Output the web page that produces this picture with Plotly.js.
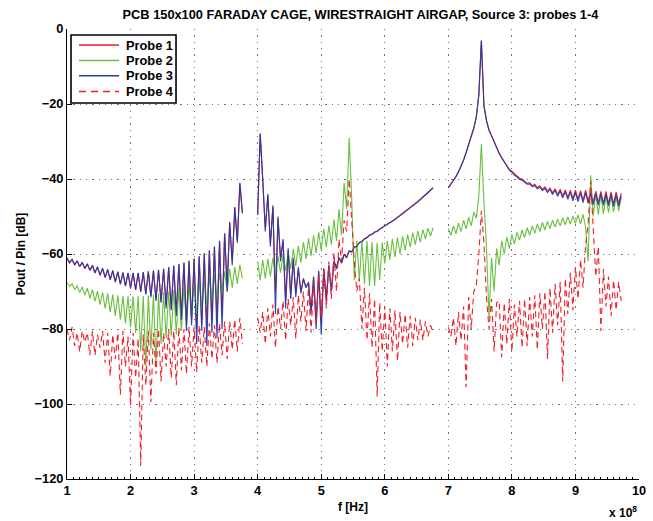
<!DOCTYPE html>
<html>
<head>
<meta charset="utf-8">
<script src="https://cdn.plot.ly/plotly-3.0.1.min.js"></script>
<style>html,body{margin:0;padding:0;background:#fff;}#chart{width:653px;height:521px;}</style>
</head>
<body>
<div id="chart"></div>
<script>
// frequency in units of 1e8 Hz, three measured bands
const freqA = [1.00,1.04,1.08,1.12,1.16,1.20,1.24,1.28,1.32,1.36,
1.40,1.44,1.48,1.52,1.56,1.60,1.64,1.68,1.72,1.76,
1.80,1.84,1.88,1.92,1.96,2.00,2.04,2.08,2.12,2.16,
2.20,2.24,2.28,2.32,2.36,2.40,2.44,2.48,2.52,2.56,
2.60,2.64,2.68,2.72,2.76,2.80,2.84,2.88,2.92,2.96,
3.00,3.04,3.08,3.12,3.16,3.20,3.24,3.28,3.32,3.36,
3.40,3.44,3.48,3.52,3.56,3.60,3.64,3.68,3.72,3.76];
const freqB = [4.00,4.04,4.08,4.12,4.16,4.20,4.24,4.28,4.32,4.36,
4.40,4.44,4.48,4.52,4.56,4.60,4.64,4.68,4.72,4.76,
4.80,4.84,4.88,4.92,4.96,5.00,5.04,5.08,5.12,5.16,
5.20,5.24,5.28,5.32,5.36,5.40,5.44,5.48,5.52,5.56,
5.60,5.64,5.68,5.72,5.76,5.80,5.84,5.88,5.92,5.96,
6.00,6.04,6.08,6.12,6.16,6.20,6.24,6.28,6.32,6.36,
6.40,6.44,6.48,6.52,6.56,6.60,6.64,6.68,6.72,6.76];
const freqC = [7.00,7.04,7.08,7.12,7.16,7.20,7.24,7.28,7.32,7.36,
7.40,7.44,7.48,7.52,7.56,7.60,7.64,7.68,7.72,7.76,
7.80,7.84,7.88,7.92,7.96,8.00,8.04,8.08,8.12,8.16,
8.20,8.24,8.28,8.32,8.36,8.40,8.44,8.48,8.52,8.56,
8.60,8.64,8.68,8.72,8.76,8.80,8.84,8.88,8.92,8.96,
9.00,9.04,9.08,9.12,9.16,9.20,9.24,9.28,9.32,9.36,
9.40,9.44,9.48,9.52,9.56,9.60,9.64,9.68,9.72];

// Probe 1 [dB]
const probe1A = [-61.2,-62.4,-61.5,-62.9,-61.9,-63.4,-62.3,-63.9,-62.7,-64.4,
-63.1,-65.1,-63.5,-65.7,-63.9,-66.3,-64.2,-66.9,-64.5,-67.5,
-64.8,-68.1,-65.0,-68.6,-65.1,-69.1,-65.1,-69.6,-65.1,-70.1,
-64.9,-70.6,-64.7,-71.2,-64.5,-72.0,-64.3,-72.6,-64.0,-73.5,
-63.6,-74.5,-63.2,-75.5,-62.8,-76.5,-62.4,-78.0,-61.9,-77.5,
-61.3,-80.0,-60.7,-78.5,-59.9,-79.0,-59.1,-77.5,-58.1,-78.0,
-56.6,-76.0,-54.6,-68.0,-51.6,-62.0,-47.6,-56.5,-41.2,-49.2];
const probe1B = [-49.4,-28.0,-40.5,-53.0,-44.5,-57.0,-47.5,-70.0,-50.5,-61.0,
-56.5,-72.0,-59.0,-71.0,-61.5,-70.5,-64.0,-70.0,-66.8,-68.8,
-67.6,-75.0,-66.2,-77.5,-64.7,-78.0,-64.0,-71.5,-63.1,-69.5,
-61.8,-63.5,-60.9,-62.2,-60.0,-60.8,-59.1,-59.4,-58.1,-57.9,
-56.9,-56.6,-55.9,-55.6,-54.9,-54.7,-54.1,-53.9,-53.3,-52.9,
-52.5,-52.0,-51.6,-51.1,-50.7,-50.2,-49.7,-49.2,-48.7,-48.2,
-47.7,-47.1,-46.6,-46.0,-45.4,-44.8,-44.2,-43.6,-42.9,-42.3];
const probe1C = [-42.3,-41.4,-40.4,-39.3,-38.0,-36.5,-34.9,-32.9,-30.7,-28.5,
-26.4,-23.4,-17.6,-3.2,-20.3,-24.3,-26.9,-28.4,-30.1,-31.7,
-33.1,-34.3,-35.5,-36.4,-37.4,-38.0,-38.8,-39.2,-39.8,-40.0,
-40.6,-41.2,-41.0,-41.8,-41.4,-42.3,-41.8,-42.8,-42.1,-43.2,
-42.4,-43.7,-42.6,-44.1,-42.7,-44.5,-42.9,-44.9,-43.0,-45.2,
-43.0,-45.4,-43.1,-45.7,-43.0,-45.9,-43.2,-46.2,-43.2,-46.3,
-43.3,-46.4,-43.3,-46.5,-43.4,-46.6,-43.4,-46.6,-43.8];

// Probe 2 [dB]
const probe2A = [-67.6,-68.6,-68.0,-69.5,-68.4,-70.3,-68.8,-71.0,-69.1,-71.8,
-69.5,-72.6,-69.9,-73.5,-70.2,-74.5,-70.5,-75.5,-70.8,-76.5,
-71.0,-77.5,-71.2,-78.5,-71.3,-79.5,-71.3,-81.0,-71.3,-86.0,
-71.2,-90.0,-71.0,-85.5,-70.8,-89.5,-70.6,-84.0,-70.3,-82.5,
-70.0,-82.0,-69.6,-81.5,-69.2,-80.5,-68.8,-79.0,-68.2,-77.0,
-67.8,-76.0,-67.3,-75.0,-66.8,-74.0,-66.2,-72.8,-65.7,-71.8,
-65.2,-71.0,-64.6,-70.0,-64.0,-69.0,-63.5,-68.0,-62.8,-66.5];
const probe2B = [-62.0,-67.0,-61.6,-66.5,-61.3,-66.0,-61.0,-65.5,-60.6,-65.0,
-60.0,-64.5,-59.4,-64.0,-58.6,-63.2,-57.8,-62.3,-56.8,-61.3,
-55.8,-60.5,-55.0,-59.8,-54.2,-59.0,-53.3,-58.2,-52.4,-57.5,
-50.8,-56.5,-48.0,-55.0,-41.0,-48.0,-29.0,-45.5,-67.0,-56.5,
-67.0,-56.5,-68.0,-56.5,-68.5,-56.8,-68.5,-57.0,-67.0,-57.0,
-62.5,-56.5,-61.5,-56.0,-60.8,-55.6,-60.0,-55.3,-59.0,-54.8,
-58.2,-54.3,-57.5,-53.9,-56.8,-53.5,-56.0,-53.1,-55.2,-53.0];
const probe2C = [-53.2,-55.0,-52.5,-54.6,-51.8,-54.0,-51.0,-53.3,-50.2,-52.5,
-48.8,-50.5,-44.5,-30.7,-46.0,-58.0,-77.0,-61.0,-70.0,-58.5,
-63.0,-56.5,-60.0,-55.5,-58.5,-54.8,-57.3,-54.2,-56.3,-53.6,
-55.6,-53.0,-55.0,-52.5,-54.5,-52.0,-54.0,-51.6,-53.6,-51.3,
-53.2,-51.0,-52.8,-50.7,-52.5,-50.4,-52.2,-50.1,-52.0,-49.9,
-51.8,-49.6,-52.0,-49.4,-53.0,-62.0,-39.0,-50.0,-44.0,-49.5,
-44.2,-49.3,-44.5,-49.0,-44.6,-48.8,-44.8,-48.6,-45.0];

// Probe 3 [dB]
const probe3A = [-61.0,-62.3,-61.4,-62.8,-61.8,-63.3,-62.2,-63.8,-62.6,-64.3,
-63.0,-65.0,-63.4,-65.6,-63.8,-66.2,-64.1,-66.8,-64.4,-67.4,
-64.7,-68.0,-64.9,-68.5,-65.0,-69.0,-65.0,-69.5,-65.0,-70.0,
-64.8,-70.8,-64.6,-71.5,-64.4,-72.5,-64.2,-73.0,-63.9,-74.5,
-63.5,-75.0,-63.1,-76.5,-62.7,-77.5,-62.3,-80.5,-61.8,-79.0,
-61.2,-84.0,-60.6,-80.5,-59.8,-84.5,-59.0,-81.0,-58.0,-82.5,
-56.5,-80.0,-54.5,-70.0,-51.5,-63.0,-47.5,-57.0,-41.0,-49.0];
const probe3B = [-49.6,-27.8,-40.0,-54.0,-44.0,-58.0,-47.0,-76.0,-50.0,-62.0,
-56.0,-74.5,-58.5,-72.0,-61.0,-71.5,-63.5,-70.5,-66.5,-69.0,
-67.5,-76.0,-66.0,-80.0,-64.5,-81.5,-63.8,-73.0,-63.0,-70.0,
-62.0,-64.0,-61.0,-62.5,-60.2,-61.0,-59.2,-59.5,-58.2,-58.0,
-57.0,-56.7,-56.0,-55.7,-55.0,-54.8,-54.2,-54.0,-53.4,-53.0,
-52.6,-52.1,-51.7,-51.2,-50.8,-50.3,-49.8,-49.3,-48.8,-48.3,
-47.8,-47.2,-46.7,-46.1,-45.5,-44.9,-44.3,-43.7,-43.0,-42.4];
const probe3C = [-42.4,-41.5,-40.5,-39.4,-38.1,-36.6,-35.0,-33.0,-30.8,-28.6,
-26.5,-23.5,-17.5,-3.0,-20.5,-24.5,-27.0,-28.5,-30.2,-31.8,
-33.2,-34.4,-35.6,-36.5,-37.6,-38.2,-39.0,-39.4,-40.1,-40.3,
-40.9,-41.4,-41.3,-42.0,-41.8,-42.6,-42.2,-43.1,-42.5,-43.6,
-42.8,-44.1,-43.0,-44.6,-43.2,-45.0,-43.4,-45.4,-43.5,-45.8,
-43.6,-46.0,-43.7,-46.3,-43.6,-46.5,-43.8,-46.8,-43.8,-47.0,
-43.9,-47.0,-44.0,-47.2,-44.0,-47.3,-44.1,-47.3,-44.5];

// Probe 4 [dB]
const probe4A = [-80.0,-83.0,-79.5,-84.5,-81.0,-86.0,-80.5,-83.5,-81.0,-87.0,
-80.5,-87.0,-81.5,-85.0,-80.5,-89.0,-81.0,-92.5,-81.5,-88.0,
-81.0,-97.5,-80.5,-90.0,-82.0,-100.5,-81.0,-93.0,-82.5,-116.5,
-81.5,-95.0,-80.5,-99.5,-81.0,-92.0,-80.0,-94.0,-81.0,-90.0,
-80.0,-93.0,-80.5,-95.0,-79.5,-91.0,-80.0,-92.0,-79.5,-90.0,
-79.5,-91.5,-79.0,-89.0,-79.5,-90.0,-78.5,-88.0,-79.0,-89.0,
-78.5,-87.0,-78.0,-88.0,-78.0,-85.5,-77.5,-86.0,-77.0,-84.0];
const probe4B = [-77.0,-81.0,-75.5,-84.0,-74.5,-82.0,-73.5,-85.0,-74.0,-80.0,
-72.5,-83.0,-72.0,-79.0,-71.5,-82.5,-71.0,-78.0,-70.0,-80.5,
-69.0,-81.0,-67.5,-79.0,-66.0,-77.0,-64.0,-74.5,-62.0,-72.0,
-59.5,-70.0,-56.0,-62.0,-51.0,-54.0,-40.0,-52.0,-62.0,-70.0,
-66.5,-80.0,-69.0,-83.0,-70.5,-85.0,-72.0,-98.0,-73.0,-86.0,
-74.0,-90.0,-74.5,-86.0,-75.0,-88.5,-75.5,-84.0,-76.0,-85.0,
-76.5,-84.5,-77.0,-83.0,-77.5,-83.0,-78.0,-82.0,-79.0,-81.0];
const probe4C = [-79.5,-82.0,-77.0,-84.5,-75.5,-83.0,-74.0,-95.5,-71.5,-80.0,
-70.0,-68.5,-60.0,-48.5,-57.0,-71.5,-80.0,-72.0,-86.0,-73.0,
-72.5,-87.5,-73.0,-84.0,-72.0,-86.0,-73.5,-82.0,-72.5,-85.0,
-72.0,-84.5,-71.5,-82.0,-71.0,-85.5,-70.5,-80.0,-70.0,-88.0,
-69.0,-81.0,-68.0,-79.0,-67.5,-94.0,-66.5,-76.0,-65.0,-75.0,
-63.5,-72.0,-61.5,-69.0,-57.5,-52.0,-40.5,-55.0,-66.0,-58.0,
-80.5,-64.0,-74.0,-66.0,-76.5,-67.0,-75.0,-67.5,-72.5];

const seriesNames = ['Probe 1','Probe 2','Probe 3','Probe 4'];

function join3(a, b, c) { return [...a, null, ...b, null, ...c]; }
const freq = join3(freqA, freqB, freqC);

const FONT = 'Liberation Sans, Arial, sans-serif';
const styles = [
  {color: 'rgb(235,30,35)', width: 1.1, dash: 'solid'},
  {color: 'rgb(105,192,62)', width: 1.1, dash: 'solid'},
  {color: 'rgb(38,58,165)', width: 1.15, dash: 'solid'},
  {color: 'rgb(240,30,40)', width: 1.1, dash: '6px,4px'}
];
const ys = [join3(probe1A, probe1B, probe1C), join3(probe2A, probe2B, probe2C),
            join3(probe3A, probe3B, probe3C), join3(probe4A, probe4B, probe4C)];
const traces = ys.map((y, i) => ({
  type: 'scatter', mode: 'lines', connectgaps: false, showlegend: false,
  x: freq, y: y, name: seriesNames[i], line: styles[i], opacity: i === 2 ? 0.94 : 1
}));

// MATLAB-style legend box (paper coordinates)
const shapes = [{type: 'rect', xref: 'paper', yref: 'paper', x0: 0.007, x1: 0.1906, y0: 0.8356, y1: 0.9867,
  line: {color: '#000', width: 1.6}, fillcolor: '#fff', layer: 'above'}];
const annotations = [];
const rowY = [0.9644, 0.9300, 0.8960, 0.8610];
seriesNames.forEach((n, i) => {
  shapes.push({type: 'line', xref: 'paper', yref: 'paper', x0: 0.021, x1: 0.091, y0: rowY[i], y1: rowY[i],
    line: {color: styles[i].color, width: 1.5, dash: i === 3 ? '7px,5px' : 'solid'}, layer: 'above'});
  annotations.push({xref: 'paper', yref: 'paper', x: 0.100, y: rowY[i], xanchor: 'left', yanchor: 'middle',
    text: n, showarrow: false, font: {family: FONT, size: 12.8, color: '#000', weight: 'bold'}});
});
annotations.push({
  xref: 'paper', yref: 'paper', x: 1.0, y: -0.074, xanchor: 'right', yanchor: 'middle',
  text: 'x 10<sup>8</sup>', showarrow: false,
  font: {family: FONT, size: 12, color: '#000', weight: 'bold'}
});

const axisCommon = {
  showline: true, linecolor: '#000', linewidth: 1,
  ticks: 'inside', ticklen: 5, tickwidth: 1, tickcolor: '#000',
  showgrid: true, gridcolor: '#6e6e6e', gridwidth: 1, griddash: '1.3px,5px',
  zeroline: false, mirror: false,
  tickfont: {family: FONT, size: 12.8, color: '#000', weight: 'bold'}
};

const layout = {
  width: 653, height: 521,
  margin: {l: 67, r: 14, t: 29, b: 42},
  paper_bgcolor: '#fff', plot_bgcolor: '#fff',
  showlegend: false,
  title: {text: 'PCB 150x100 FARADAY CAGE, WIRESTRAIGHT AIRGAP, Source 3: probes 1-4',
          font: {family: FONT, size: 12.8, color: '#000', weight: 'bold'},
          x: 0.552, xanchor: 'center', y: 0.972, yanchor: 'middle'},
  xaxis: Object.assign({}, axisCommon, {
    range: [1, 10], tick0: 1, dtick: 1,
    minor: {ticks: 'inside', ticklen: 2.5, dtick: 0.1, tickcolor: '#000', showgrid: false},
    title: {text: 'f [Hz]', standoff: 5, font: {family: FONT, size: 12, color: '#000', weight: 'bold'}}
  }),
  yaxis: Object.assign({}, axisCommon, {
    range: [-120, 0], tick0: 0, dtick: 20,
    title: {text: 'Pout / Pin [dB]', standoff: 6, font: {family: FONT, size: 12, color: '#000', weight: 'bold'}}
  }),
  shapes: shapes,
  annotations: annotations
};

Plotly.newPlot('chart', traces, layout, {displayModeBar: false, staticPlot: true});
</script>
</body>
</html>
